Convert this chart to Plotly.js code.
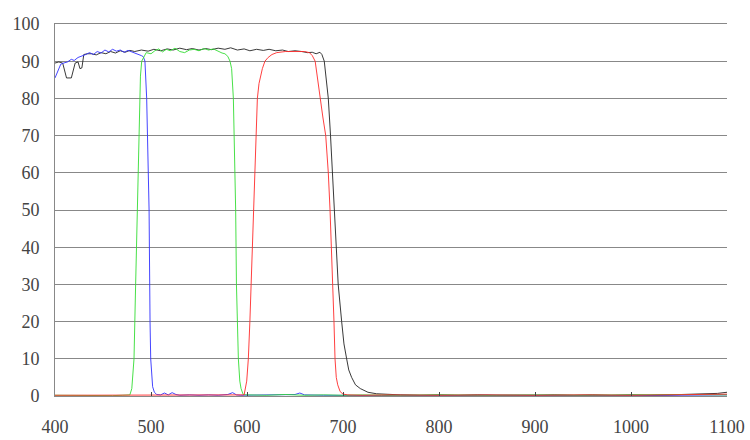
<!DOCTYPE html>
<html>
<head>
<meta charset="utf-8">
<script src="https://cdn.plot.ly/plotly-3.0.1.min.js"></script>
<style>html,body{margin:0;padding:0;background:#fff;}#chart{width:750px;height:440px;}</style>
</head>
<body>
<div id="chart"></div>
<script>
// Black series
var blackX = [400,404,408,412,417,421,424,426,428,430,434,438,443,448,453,458,463,468,473,478,483,490,497,503,510,517,523,530,537,543,550,557,563,570,577,583,590,597,603,610,617,623,630,637,643,650,657,663,668,672,676,678,680.5,682.5,684.7,687,689,691,693.4,695,698.6,701,703.8,706,709,713,718,726,735,745,760,780,800,820,840,860,880,900,920,940,960,980,1000,1020,1040,1060,1080,1090,1100];
var blackY = [89.5,89.8,89.5,85.5,85.5,89.5,89.8,88.0,88.2,91.8,92.0,92.0,91.7,92.3,92.0,92.6,92.2,92.8,92.4,92.9,92.6,93.0,92.7,93.2,92.8,93.3,93.0,93.5,93.1,93.4,93.0,93.4,93.1,93.5,93.2,93.6,93.0,93.3,92.8,93.2,92.9,93.2,92.8,93.0,92.6,92.8,92.6,92.3,92.4,92.0,92.4,91.8,90,85,80,70,60,50,40,30,20,14,10,7,5,3,2,1,0.6,0.4,0.3,0.2,0.3,0.2,0.3,0.2,0.1,0.2,0.3,0.2,0.3,0.2,0.3,0.2,0.3,0.4,0.5,0.7,1.0];

// Blue series
var blueX = [400,403,406,409,413,417,420,424,428,432,436,440,444,448,452,456,460,464,468,472,476,480,484,487,490,492,493.7,495.5,497,498,499,499.7,501.7,503.5,506,510,514,518,522,526,530,540,550,560,570,580,585,589,593,600,620,640,650,655,660,680,700,720,740,760,800,850,900,950,1000,1050,1100];
var blueY = [85.5,87.5,89.2,89.5,89.8,90.5,90.2,91.0,91.3,91.8,92.3,91.8,92.6,92.2,93.0,92.5,93.2,92.7,93.0,92.4,92.9,92.5,92.3,92.0,91.5,91.2,90,80,62,50,20,10,2.5,1,0.4,0.3,0.8,0.3,0.9,0.4,0.2,0.3,0.2,0.3,0.2,0.4,0.9,0.3,0.2,0.2,0.3,0.2,0.4,0.8,0.3,0.2,0.1,0.2,0.1,0.2,0.1,0.2,0.1,0.2,0.1,0.2,0.3];

// Green series
var greenX = [400,420,440,460,470,478,480,482.3,484,485.8,487,487.9,489,490.3,492,495,500,504,508,512,516,520,525,530,535,540,545,550,555,560,565,570,574,577,580,582.3,584,585.8,587,588.2,589,590,591,592.5,593.8,596,600,620,640,660,680,700,720,750,800,850,900,950,1000,1050,1100];
var greenY = [0.2,0.1,0.2,0.1,0.2,0.3,2,10,30,50,70,80,86,90,91,92.3,92.0,92.8,93.3,92.5,93.2,92.8,93.5,92.6,92.3,93.0,93.2,92.8,93.4,93.0,93.3,92.6,92.2,92,91.3,90,88,80,65,50,30,20,10,4,2,0.4,0.3,0.2,0.4,0.2,0.3,0.2,0.3,0.2,0.3,0.2,0.3,0.2,0.3,0.4,0.3];

// Red series
var redX = [400,450,500,550,580,597,599.7,601.4,603,605,606.6,608,609,610.8,612.5,614,616,618.7,622,626,631,640,650,660,665,668,671,673,676,679,682,684.7,686.5,688,689.2,690.6,691.7,693,694.5,697,700,705,720,750,800,850,900,950,1000,1050,1100];
var redY = [0.2,0.2,0.3,0.2,0.3,0.3,4,10,20,35,50,62,70,80,84,86,88,90,91,91.8,92.3,92.6,92.5,92.6,92.3,91.5,90,86,80,75,70,60,50,40,30,20,10,5,3,1.2,0.5,0.3,0.2,0.3,0.2,0.3,0.2,0.3,0.2,0.4,0.5];

var xTicks = [400,500,600,700,800,900,1000,1100];
var yTicks = [0,10,20,30,40,50,60,70,80,90,100];

function tr(x, y, c) {
  return {x: x, y: y, type: 'scatter', mode: 'lines', line: {color: c, width: 0.9}, hoverinfo: 'skip'};
}

var data = [
  tr(blackX, blackY, '#222222'),
  tr(blueX, blueY, '#3030ff'),
  tr(greenX, greenY, '#33dd33'),
  tr(redX, redY, '#ff2a2a')
];

var font = {family: 'Liberation Serif, DejaVu Serif, serif', size: 18, color: '#444'};

var layout = {
  width: 750, height: 440,
  margin: {l: 55, r: 23, t: 24, b: 44},
  paper_bgcolor: '#fff', plot_bgcolor: '#fff',
  showlegend: false,
  font: font,
  xaxis: {
    range: [400, 1100], tickvals: xTicks, ticktext: xTicks.map(String),
    showgrid: false, zeroline: false,
    showline: true, mirror: true, linecolor: '#888', linewidth: 1,
    ticks: 'inside', ticklen: 4, tickcolor: '#444', tickwidth: 1,
    ticklabelstandoff: 14,
    tickfont: font
  },
  yaxis: {
    range: [0, 100], tickvals: yTicks, ticktext: yTicks.map(String),
    showgrid: true, gridcolor: '#888', gridwidth: 1,
    zeroline: false,
    showline: true, linecolor: '#888', linewidth: 1,
    ticks: '', ticklabelstandoff: 11,
    tickfont: font
  }
};

Plotly.newPlot('chart', data, layout, {staticPlot: true, displayModeBar: false});
</script>
</body>
</html>
